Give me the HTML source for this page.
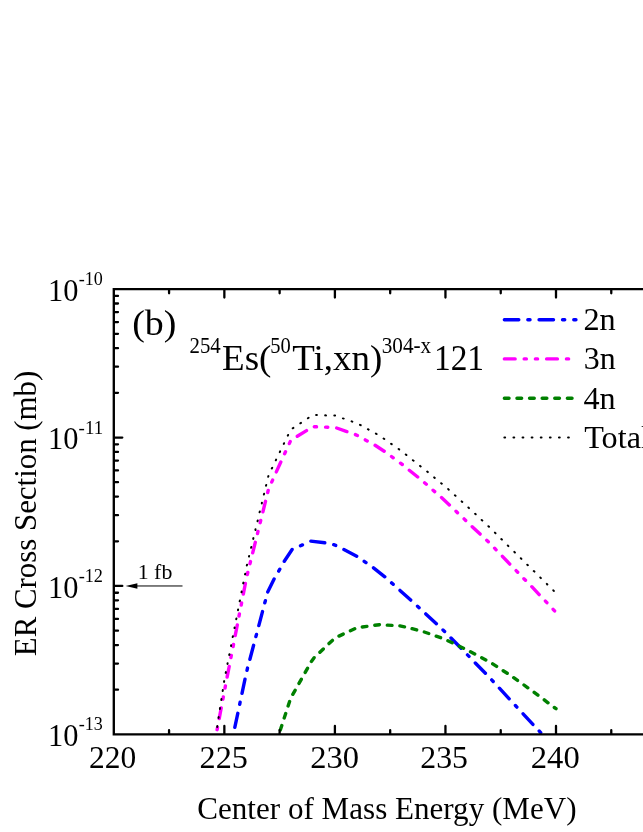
<!DOCTYPE html>
<html><head><meta charset="utf-8"><title>ER Cross Section</title>
<style>html,body{margin:0;padding:0;background:#fff}body{width:643px;height:832px;overflow:hidden;font-family:"Liberation Serif",serif}</style>
</head><body>
<svg width="643" height="832" viewBox="0 0 643 832" style="display:block;will-change:transform">
<rect width="643" height="832" fill="#fff"/>
<defs><clipPath id="c"><rect x="113.8" y="289.1" width="643" height="445.30"/></clipPath></defs>
<g clip-path="url(#c)" fill="none" stroke-linecap="round" stroke-linejoin="round">
<path d="M232.5 738.5L233.0 736.3M234.8 727.4L237.8 713.3M239.7 704.4L240.1 702.2M242.0 693.3L245.0 679.1M247.0 670.3L247.5 668.1M249.9 659.3L253.6 645.3M255.9 636.5L256.5 634.4M258.8 625.6L262.5 611.6M264.8 602.8L265.4 600.7M267.7 591.9L274.1 579.0M278.7 571.1L279.8 569.2M284.3 561.3L292.1 549.5M300.5 545.8L302.5 544.9M310.8 541.1L324.8 542.8M333.7 544.7L335.7 545.4M343.9 549.6L356.7 556.2M364.2 561.3L366.0 562.6M373.5 567.8L384.8 576.8M391.6 582.9L393.2 584.3M400.0 590.4L410.7 600.1M417.5 606.2L419.1 607.7M425.8 613.9L436.4 623.7M443.0 630.0L444.6 631.5M451.0 638.0L461.1 648.3M467.5 654.9L469.0 656.4M475.3 663.0L485.4 673.3M491.7 679.9L493.2 681.5M499.4 688.2L509.2 698.8M515.4 705.5L516.9 707.1M523.1 713.8L532.9 724.4M539.2 731.0L540.7 732.6M547.0 739.2L556.0 748.6" stroke="#0000ff" stroke-width="3.4"/>
<path d="M215.0 740.7L215.4 738.5M217.1 729.7L217.5 727.5M219.2 718.6L221.2 708.0M222.9 699.2L223.3 697.0M225.0 688.1L225.4 686.0M227.1 677.1L229.2 666.5M230.9 657.6L231.3 655.5M233.1 646.6L233.5 644.4M235.2 635.6L237.3 625.0M239.0 616.1L239.4 613.9M241.2 605.1L241.6 602.9M243.3 594.1L245.4 583.5M247.3 574.6L247.8 572.5M250.0 563.7L250.5 561.6M252.7 552.8L255.3 542.3M257.5 533.6L258.0 531.4M260.2 522.7L260.7 520.5M262.9 511.8L265.5 501.3M267.7 492.5L268.2 490.4M271.7 482.1L272.6 480.1M276.3 471.9L280.8 462.0M284.6 453.8L285.5 451.8M289.3 443.6L290.2 441.6M297.3 436.3L306.5 430.6M314.3 426.7L316.5 426.8M325.6 427.1L327.8 427.2M336.7 428.0L346.9 431.6M355.4 434.6L357.4 435.5M365.3 439.9L367.2 440.9M375.1 445.3L384.2 451.2M391.5 456.5L393.2 457.8M400.5 463.2L402.3 464.5M409.3 470.2L417.7 477.0M424.6 482.8L426.3 484.2M433.1 490.2L434.7 491.6M441.5 497.6L449.4 504.9M456.0 511.2L457.5 512.7M464.1 518.9L465.7 520.5M472.2 526.7L480.1 534.1M486.7 540.3L488.3 541.8M494.6 548.2L496.1 549.8M502.4 556.3L509.8 564.1M516.1 570.6L517.7 572.2M523.9 578.7L525.5 580.3M531.8 586.7L539.2 594.6M545.4 601.1L546.9 602.7M553.1 609.3L554.6 610.9" stroke="#ff00ff" stroke-width="3.4"/>
<path d="M276.5 741.9L277.9 737.5M280.3 730.0L281.8 725.5M284.2 718.0L285.7 713.5M288.1 706.0L289.6 701.5M292.8 694.3L295.1 690.3M299.0 683.4L301.3 679.3M305.2 672.4L307.5 668.3M311.4 661.4L314.1 657.7M319.9 652.3L323.3 649.0M329.0 643.6L332.4 640.4M339.0 636.1L343.2 634.1M350.4 630.8L354.7 628.8M362.3 627.0L366.9 626.4M374.8 625.3L379.4 624.7M387.3 625.1L392.0 625.4M399.9 625.9L404.5 626.8M412.1 628.7L416.7 629.9M424.3 632.0L428.7 633.5M436.2 636.2L440.6 637.7M447.9 640.7L452.2 642.7M459.3 646.2L463.5 648.2M470.5 651.8L474.7 654.0M481.7 657.7L485.8 659.9M492.7 663.8L496.6 666.4M503.2 670.7L507.2 673.3M513.7 677.7L517.5 680.4M524.0 685.0L527.8 687.8M534.2 692.4L537.9 695.2M544.3 699.9L548.0 702.8M554.3 707.5L556.0 708.7" stroke="#008000" stroke-width="3.4"/>
<path d="M215.8 735.9L215.9 735.2M217.2 726.9L217.3 726.1M218.5 717.9L218.7 717.1M219.9 708.9L220.0 708.1M221.3 699.9L221.4 699.1M222.7 690.9L222.8 690.1M224.0 681.9L224.2 681.1M225.7 672.9L225.9 672.1M227.5 663.9L227.6 663.2M229.2 655.0L229.4 654.2M231.0 646.0L231.1 645.3M232.7 637.1L232.9 636.3M234.5 628.1L234.6 627.4M236.2 619.2L236.4 618.4M238.0 610.2L238.1 609.5M239.7 601.3L239.9 600.5M241.5 592.3L241.6 591.6M243.2 583.4L243.4 582.6M245.0 574.4L245.2 573.7M246.8 565.5L247.0 564.7M249.0 556.6L249.1 555.9M251.1 547.8L251.3 547.0M253.2 538.9L253.4 538.1M255.4 530.0L255.5 529.3M257.5 521.2L257.7 520.4M259.6 512.3L259.8 511.5M261.8 503.4L261.9 502.7M263.9 494.6L264.1 493.8M266.0 485.7L266.2 484.9M268.2 476.8L268.4 476.1M271.8 468.5L272.2 467.8M275.8 460.3L276.1 459.6M279.8 452.1L280.1 451.4M283.8 443.9L284.1 443.2M287.8 435.7L288.1 435.0M292.7 428.3L293.4 427.9M300.3 423.3L301.0 422.9M307.9 418.3L308.6 417.8M316.1 415.1L316.9 415.1M325.2 415.3L326.0 415.4M334.3 415.6L335.1 415.6M342.9 418.4L343.7 418.6M351.6 421.3L352.3 421.6M360.0 424.8L360.7 425.2M367.9 429.2L368.6 429.6M375.9 433.6L376.6 434.0M383.6 438.5L384.3 439.0M391.1 443.8L391.7 444.2M398.6 449.0L399.2 449.4M405.8 454.5L406.4 455.0M412.9 460.2L413.6 460.7M420.1 465.9L420.7 466.4M427.2 471.6L427.8 472.1M434.2 477.4L434.8 477.9M441.2 483.2L441.8 483.7M448.2 489.1L448.7 489.7M454.9 495.3L455.5 495.8M461.7 501.4L462.3 501.9M468.4 507.5L469.0 508.1M475.1 513.8L475.7 514.3M481.7 520.0L482.3 520.5M488.4 526.2L489.0 526.8M494.9 532.6L495.5 533.2M501.3 539.1L501.9 539.6M507.8 545.5L508.4 546.1M514.3 551.9L514.9 552.5M520.8 558.3L521.4 558.9M527.3 564.7L527.9 565.2M533.8 571.1L534.4 571.6M540.3 577.5L540.9 578.1M546.8 583.9L547.3 584.5M553.3 590.3L553.8 590.9" stroke="#000" stroke-width="2.0"/>
</g>
<g stroke="#000" stroke-linecap="butt" fill="none">
<path d="M648 289.1 H113.8 V734.4 H648" stroke-width="2.35" stroke-linejoin="miter"/>
<path d="M169.07 733.8 v-3.60 M169.07 289.70000000000005 v3.60 M224.35 733.8 v-7.90 M224.35 289.70000000000005 v7.90 M279.62 733.8 v-3.60 M279.62 289.70000000000005 v3.60 M334.90 733.8 v-7.90 M334.90 289.70000000000005 v7.90 M390.18 733.8 v-3.60 M390.18 289.70000000000005 v3.60 M445.45 733.8 v-7.90 M445.45 289.70000000000005 v7.90 M500.73 733.8 v-3.60 M500.73 289.70000000000005 v3.60 M556.00 733.8 v-7.90 M556.00 289.70000000000005 v7.90 M611.27 733.8 v-3.60 M611.27 289.70000000000005 v3.60 M666.55 733.8 v-7.90 M666.55 289.70000000000005 v7.90 M114.40 689.72 h3.60 M114.40 663.58 h3.60 M114.40 645.03 h3.60 M114.40 630.65 h3.60 M114.40 618.90 h3.60 M114.40 608.96 h3.60 M114.40 600.35 h3.60 M114.40 592.76 h3.60 M114.40 585.97 h7.90 M114.40 541.28 h3.60 M114.40 515.15 h3.60 M114.40 496.60 h3.60 M114.40 482.22 h3.60 M114.40 470.46 h3.60 M114.40 460.53 h3.60 M114.40 451.92 h3.60 M114.40 444.33 h3.60 M114.40 437.53 h7.90 M114.40 392.85 h3.60 M114.40 366.71 h3.60 M114.40 348.17 h3.60 M114.40 333.78 h3.60 M114.40 322.03 h3.60 M114.40 312.09 h3.60 M114.40 303.48 h3.60 M114.40 295.89 h3.60" stroke-width="2.3" stroke-linecap="round"/>
</g>
<path d="M137 585.97 H182.5" stroke="#000" stroke-width="1" fill="none"/>
<path d="M125.6 585.97 L137.4 583.17 V588.77 Z" fill="#000"/>
<g fill="none" stroke-linecap="round">
<path d="M504.35 319.7 H575.95" stroke="#0000ff" stroke-width="3.4" stroke-dasharray="14.45 9.03 2.20 9.03"/>
<path d="M504.35 358.9 H575.35" stroke="#ff00ff" stroke-width="3.4" stroke-dasharray="10.80 9.02 2.20 9.02 2.20 9.02"/>
<path d="M504.35 398.3 H575.95" stroke="#008000" stroke-width="3.4" stroke-dasharray="4.70 7.90"/>
<path d="M504.35 437.5 H575.95" stroke="#000" stroke-width="2.0" stroke-dasharray="0.80 8.30"/>
</g>
<g font-family="Liberation Serif, serif" fill="#000">
<text transform="translate(132.22 334.90) scale(1.0538 1)" font-size="36">(b)</text>
<text transform="translate(189.47 352.90) scale(0.9262 1)" font-size="22.5">254</text>
<text transform="translate(222.06 369.80) scale(1.0409 1)" font-size="35.6">Es(</text>
<text transform="translate(270.36 352.90) scale(0.9122 1)" font-size="22.5">50</text>
<text transform="translate(292.22 369.80) scale(1.0386 1)" font-size="35.6">Ti,xn)</text>
<text transform="translate(381.76 352.90) scale(0.9424 1)" font-size="22.5">304-x</text>
<text transform="translate(433.96 369.70) scale(0.9466 1)" font-size="35.3">121</text>
<text transform="translate(48.02 300.80) scale(0.9368 1)" font-size="32.5">10</text>
<text transform="translate(78.65 285.10) scale(1.0044 1)" font-size="18">-10</text>
<text transform="translate(48.02 449.23) scale(0.9368 1)" font-size="32.5">10</text>
<text transform="translate(78.61 433.53) scale(1.0512 1)" font-size="18">-11</text>
<text transform="translate(48.02 597.67) scale(0.9368 1)" font-size="32.5">10</text>
<text transform="translate(78.64 581.97) scale(1.0157 1)" font-size="18">-12</text>
<text transform="translate(48.02 746.10) scale(0.9368 1)" font-size="32.5">10</text>
<text transform="translate(78.65 730.40) scale(1.0044 1)" font-size="18">-13</text>
<text transform="translate(89.05 768.10) scale(0.9674 1)" font-size="32.5">220</text>
<text transform="translate(199.61 768.10) scale(0.9913 1)" font-size="32.5">225</text>
<text transform="translate(310.30 768.10) scale(1.0000 1)" font-size="32.5">230</text>
<text transform="translate(420.33 768.10) scale(0.9783 1)" font-size="32.5">235</text>
<text transform="translate(530.79 768.10) scale(1.0043 1)" font-size="32.5">240</text>
<text transform="translate(583.41 330.00) scale(0.9934 1)" font-size="32.5">2n</text>
<text transform="translate(583.72 369.40) scale(0.9836 1)" font-size="32.5">3n</text>
<text transform="translate(583.46 409.00) scale(0.9920 1)" font-size="32.5">4n</text>
<text transform="translate(584.20 447.90) scale(0.9902 1)" font-size="32.5">Total</text>
<text transform="translate(197.30 819.30) scale(0.9567 1)" font-size="32.5">Center of Mass Energy (MeV)</text>
<text transform="translate(137.71 578.80) scale(0.9938 1)" font-size="22">1 fb</text>
<text transform="translate(35.6 656.15) rotate(-90) scale(0.9495 1)" font-size="32.5">ER Cross Section (mb)</text>
</g>
</svg>
</body></html>
